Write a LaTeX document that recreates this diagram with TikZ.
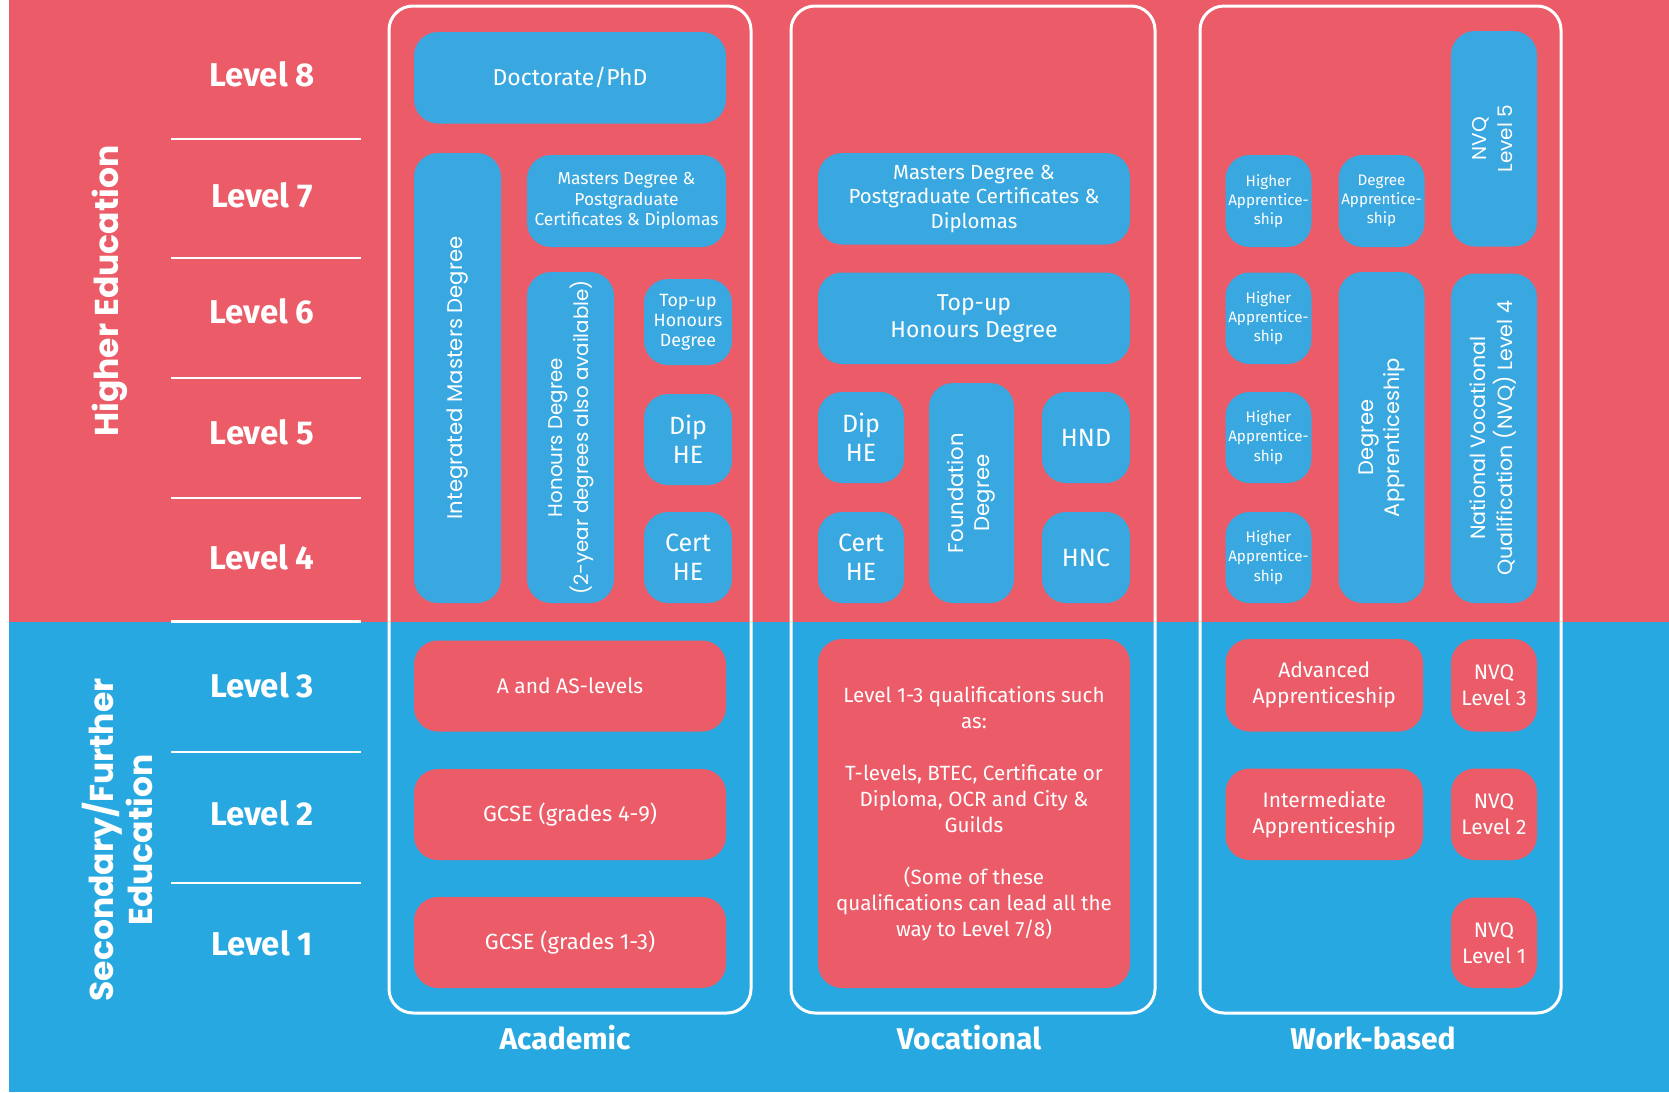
\documentclass[tikz,border=0pt]{standalone}
\usepackage{fontspec}
\setmainfont{Fira Sans}
\newfontfamily\geo{Poppins}
\definecolor{bgred}{HTML}{EB5B68}
\definecolor{bgblue}{HTML}{28A8E0}
\definecolor{boxblue}{HTML}{3AA8E0}
\newcommand\fs[2]{\fontsize{#1}{#2}\selectfont}
\begin{document}
\begin{tikzpicture}[x=0.5pt,y=-0.5pt,
  span/.style n args={4}{minimum width={(#3-#1)*0.5pt}, minimum height={(#4-#2)*0.5pt}, at={({(#1+#3)/2},{(#2+#4)/2})}},
  qb/.style={rounded corners=12pt, inner sep=0pt, text=white, align=center},
  hb/.style={qb, fill=boxblue},
  rb/.style={qb, fill=bgred},
  colbox/.style={draw=white, line width=1.5pt, rounded corners=12pt},
  lvl/.style={text=white, font=\bfseries\fs{16.5}{18}},
  collab/.style={text=white, font=\bfseries\fs{15}{18}},
  sidelab/.style={text=white, rotate=90, align=center, font=\geo\bfseries\fs{16.5}{19.5}},
  sepline/.style={draw=white, line width=1.3pt}]
\useasboundingbox (0,0) rectangle (1669,1092);
\fill[white] (0,0) rectangle (1669,1092);
\fill[bgred] (9,0) rectangle (1669,621.5);
\fill[bgblue] (9,621.5) rectangle (1669,1092);
% level separators
\foreach \yy in {139,258,378,498,621.5,752,883}{\draw[sepline] (171,\yy) -- (361,\yy);}
% level labels
\node[lvl] (l8) at (262,74) {Level 8};
\node[lvl] (l7) at (262,195) {Level 7};
\node[lvl] (l6) at (262,311) {Level 6};
\node[lvl] (l5) at (262,432) {Level 5};
\node[lvl] (l4) at (262,557) {Level 4};
\node[lvl] (l3) at (262,685) {Level 3};
\node[lvl] (l2) at (262,813) {Level 2};
\node[lvl] (l1) at (262,943) {Level 1};
\node[sidelab] (he) at (110,291) {Higher Education};
\node[sidelab] (se) at (117,840) {Secondary/Further\\Education};
% column frames
\draw[colbox] (389,6) rectangle (751,1013);
\draw[colbox] (791,6) rectangle (1155,1013);
\draw[colbox] (1200,6) rectangle (1561,1013);
\node[collab] (acad) at (565,1038) {Academic};
\node[collab] (voc) at (969,1038) {Vocational};
\node[collab] (work) at (1373,1038) {Work-based};
% Academic
\node[hb, span={414}{32}{726}{123.5}, font=\fs{11.5}{14}] (phd) {Doctorate/PhD};
\node[hb, span={414}{153}{501}{603}, font=\geo\fs{10.6}{12}] (imd) {\rotatebox{90}{Integrated Masters Degree}};
\node[hb, span={527}{155}{726}{247}, font=\fs{8.7}{10.2}] (amd) {Masters Degree \&\\Postgraduate\\Certificates \& Diplomas};
\node[hb, span={527}{272}{614}{603}, font=\geo\fs{9.9}{13}] (hon) {\rotatebox{90}{\begin{tabular}{@{}c@{}}Honours Degree\\(2-year degrees also available)\end{tabular}}};
\node[hb, span={644}{279}{732}{365}, font=\fs{8.9}{10}] (atop) {Top-up\\Honours\\Degree};
\node[hb, span={644}{394}{732}{485}, font=\fs{12.5}{14.5}] (adip) {Dip\\HE};
\node[hb, span={644}{512}{732}{603}, font=\fs{12.5}{14.5}] (acert) {Cert\\HE};
\node[rb, span={414}{640.5}{726}{731.5}, font=\fs{10.5}{13}] (alev) {A and AS-levels};
\node[rb, span={414}{769}{726}{860}, font=\fs{11}{13}] (gcse2) {GCSE (grades 4-9)};
\node[rb, span={414}{897}{726}{988}, font=\fs{11}{13}] (gcse1) {GCSE (grades 1-3)};
% Vocational
\node[hb, span={818}{153}{1130}{244.5}, font=\fs{10.2}{12.3}] (vmd) {Masters Degree \&\\Postgraduate Certificates \&\\Diplomas};
\node[hb, span={818}{272.5}{1130}{364}, font=\fs{11.5}{13.7}] (vtop) {Top-up\\Honours Degree};
\node[hb, span={818}{392}{904}{483}, font=\fs{12.5}{14.5}] (vdip) {Dip\\HE};
\node[hb, span={818}{512}{904}{603}, font=\fs{12.5}{14.5}] (vcert) {Cert\\HE};
\node[hb, span={929}{383}{1014}{603}, font=\geo\fs{10.6}{13}] (fd) {\rotatebox{90}{\begin{tabular}{@{}c@{}}Foundation\\Degree\end{tabular}}};
\node[hb, span={1042}{392}{1130}{483}, font=\fs{12.5}{14.5}] (hnd) {HND};
\node[hb, span={1042}{512}{1130}{603}, font=\fs{12.5}{14.5}] (hnc) {HNC};
\node[rb, span={818}{639}{1130}{988}, font=\fs{10.3}{13}] (vq) {Level 1-3 qualifications such\\as:\\[13pt]T-levels, BTEC, Certificate or\\Diploma, OCR and City \&\\Guilds\\[13pt](Some of these\\qualifications can lead all the\\way to Level 7/8)};
% Work-based
\node[hb, span={1225.5}{155}{1311.5}{247}, font=\fs{7.6}{9.6}] (ha1) {Higher\\Apprentice-\\ship};
\node[hb, span={1225.5}{272.5}{1311.5}{364}, font=\fs{7.6}{9.6}] (ha2) {Higher\\Apprentice-\\ship};
\node[hb, span={1225.5}{392}{1311.5}{483}, font=\fs{7.6}{9.6}] (ha3) {Higher\\Apprentice-\\ship};
\node[hb, span={1225.5}{512}{1311.5}{603}, font=\fs{7.6}{9.6}] (ha4) {Higher\\Apprentice-\\ship};
\node[hb, span={1338.5}{155}{1424.5}{247}, font=\fs{7.6}{9.6}] (da1) {Degree\\Apprentice-\\ship};
\node[hb, span={1338.5}{272}{1424.5}{603}, font=\geo\fs{10.5}{13}] (da) {\rotatebox{90}{\begin{tabular}{@{}c@{}}Degree\\Apprenticeship\end{tabular}}};
\node[hb, span={1451}{31}{1537}{246.5}, font=\geo\fs{10}{13}] (nvq5) {\rotatebox{90}{\begin{tabular}{@{}c@{}}NVQ\\Level 5\end{tabular}}};
\node[hb, span={1451}{273.5}{1537}{603}, font=\geo\fs{10.3}{13}] (nvq4) {\rotatebox{90}{\begin{tabular}{@{}c@{}}National Vocational\\Qualification (NVQ) Level 4\end{tabular}}};
\node[rb, span={1225.5}{639}{1423}{731.5}, font=\fs{10.5}{13}] (adv) {Advanced\\Apprenticeship};
\node[rb, span={1225.5}{768.5}{1423}{860}, font=\fs{10.5}{13}] (inter) {Intermediate\\Apprenticeship};
\node[rb, span={1451}{639}{1537}{731.5}, font=\fs{10.5}{13}] (nvq3) {NVQ\\Level 3};
\node[rb, span={1451}{768.5}{1537}{860}, font=\fs{10.5}{13}] (nvq2) {NVQ\\Level 2};
\node[rb, span={1451}{897.5}{1537}{988}, font=\fs{10.5}{13}] (nvq1) {NVQ\\Level 1};
\end{tikzpicture}
\end{document}
